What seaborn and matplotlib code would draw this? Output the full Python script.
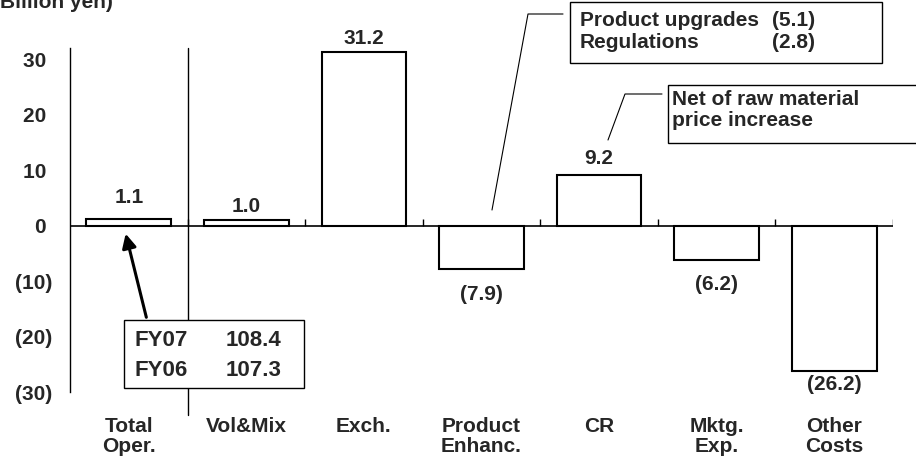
import matplotlib
matplotlib.use("Agg")
import matplotlib.pyplot as plt
import seaborn as sns
import pandas as pd
from matplotlib.patches import Rectangle, FancyArrowPatch
from matplotlib.lines import Line2D

# ---------------- data ----------------
categories = ["Total\nOper.", "Vol&Mix", "Exch.", "Product\nEnhanc.", "CR", "Mktg.\nExp.", "Other\nCosts"]
values = [1.1, 1.0, 31.2, -7.9, 9.2, -6.2, -26.2]
value_labels = ["1.1", "1.0", "31.2", "(7.9)", "9.2", "(6.2)", "(26.2)"]
ytick_values = [-30, -20, -10, 0, 10, 20, 30]
ytick_labels = ["(30)", "(20)", "(10)", "0 ", "10 ", "20 ", "30 "]
fy_labels = ["FY07", "FY06"]
fy_values = ["108.4", "107.3"]
pe_items = ["Product upgrades", "Regulations"]
pe_values = ["(5.1)", "(2.8)"]
cr_note = "Net of raw material\nprice increase"
unit_label = "(Billion yen)"

# ---------------- style ----------------
sns.set_theme(style="white")
plt.rcParams['font.family'] = ['Liberation Sans', 'DejaVu Sans']
plt.rcParams['font.weight'] = 'bold'
FS = 15

W, H = 916, 471
fig = plt.figure(figsize=(W / 100, H / 100), dpi=100)
fig.patch.set_facecolor("white")


def P(x, y):
    return (x / W, 1 - y / H)


ax = fig.add_axes([70 / W, 1 - 392 / H, (893 - 70) / W, (392 - 48) / H])
df = pd.DataFrame({"cat": categories, "val": values})
sns.barplot(data=df, x="cat", y="val", color="white", saturation=1,
            edgecolor="black", linewidth=1.5, width=0.72, ax=ax, zorder=3)

ax.set_xlim(-0.5, len(categories) - 0.5)
ax.set_ylim(-30, 32)
ax.set_xlabel("")
ax.set_ylabel("")
ax.set_facecolor("white")
for s in ["top", "right", "bottom"]:
    ax.spines[s].set_visible(False)
ax.spines["left"].set_color("black")
ax.spines["left"].set_linewidth(1.0)

ax.set_yticks(ytick_values)
ax.set_yticklabels(ytick_labels, fontsize=FS, fontweight="bold")
ax.tick_params(axis="y", direction="in", length=6, width=1, color="black", pad=13)
ax.set_xticks(range(len(categories)))
ax.set_xticklabels(categories, fontsize=FS, fontweight="bold", linespacing=1.05)
ax.tick_params(axis="x", length=0, pad=18)

# zero line and category boundary ticks
ax.axhline(0, color="black", lw=1.2, zorder=4)
bounds = [i + 0.5 for i in range(len(categories))]
ax.vlines(bounds, 0, 1.2, color="black", lw=1, zorder=4)
# divider after total
ax.plot([0.5, 0.5], [32, -34.2], color="black", lw=1, clip_on=False, zorder=4)

# value labels
offsets = [9, 3, 3, -11, 5, -11, -3]
for i, (v, lab, off) in enumerate(zip(values, value_labels, offsets)):
    ax.annotate(lab, (i, v), xytext=(0, off), textcoords="offset points",
                ha="center", va="bottom" if v > 0 else "top",
                fontsize=FS, fontweight="bold", zorder=5)

# unit label (partly cut at the top-left as in the source)
fig.text(*P(-7, 8), unit_label, fontsize=FS, fontweight="bold", va="baseline", ha="left")

# FY box
fig.add_artist(Rectangle(P(124, 388), 180 / W, 68 / H, transform=fig.transFigure,
                         facecolor="white", edgecolor="black", lw=1, zorder=5))
for k, (a, b) in enumerate(zip(fy_labels, fy_values)):
    y = 340 + 30 * k
    fig.text(*P(135, y), a, fontsize=FS + 1, fontweight="bold", va="center", ha="left", zorder=6)
    fig.text(*P(226, y), b, fontsize=FS + 1, fontweight="bold", va="center", ha="left", zorder=6)
fig.add_artist(FancyArrowPatch(P(147, 320), P(125, 231), transform=fig.transFigure,
                               arrowstyle="-|>,head_length=0.6,head_width=0.3",
                               mutation_scale=14, lw=2.2, color="black", zorder=6))

# Product enhancement box
fig.add_artist(Rectangle(P(570, 63), 312 / W, 61 / H, transform=fig.transFigure,
                         facecolor="white", edgecolor="black", lw=1, zorder=5))
for k, (a, b) in enumerate(zip(pe_items, pe_values)):
    y = 20 + 22 * k
    fig.text(*P(580, y), a, fontsize=FS, fontweight="bold", va="center", ha="left", zorder=6)
    fig.text(*P(772, y), b, fontsize=FS, fontweight="bold", va="center", ha="left", zorder=6)
xs, ys = zip(P(492, 210), P(528, 14), P(563, 14))
fig.add_artist(Line2D(xs, ys, transform=fig.transFigure, color="black", lw=0.8, zorder=6))

# CR note box
fig.add_artist(Rectangle(P(668, 143), 260 / W, 58 / H, transform=fig.transFigure,
                         facecolor="white", edgecolor="black", lw=1, zorder=5))
fig.text(*P(672, 110), cr_note, fontsize=FS, fontweight="bold", va="center", ha="left",
         linespacing=1.1, zorder=6)
xs, ys = zip(P(608, 140), P(625, 94), P(662, 94))
fig.add_artist(Line2D(xs, ys, transform=fig.transFigure, color="black", lw=0.8, zorder=6))

fig.savefig("out.png", dpi=100, facecolor="white")
